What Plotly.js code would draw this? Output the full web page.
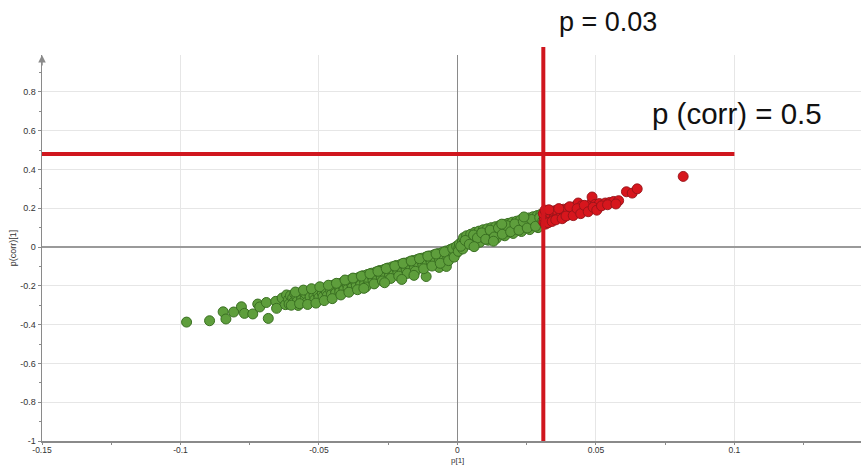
<!DOCTYPE html>
<html>
<head>
<meta charset="utf-8">
<script src="https://cdn.plot.ly/plotly-3.0.1.min.js"></script>
<style>html,body{margin:0;padding:0;background:#fff;}#chart{width:861px;height:466px;}</style>
</head>
<body>
<div id="chart"></div>
<script>
// Green variables (p[1] < 0.03)
const greenX = [
 -0.0978,-0.0895,-0.0846,-0.0836,-0.0808,-0.0780,-0.0769,-0.0739,-0.0721,-0.0714,-0.0690,-0.0683,-0.0656,-0.0653,-0.0633,-0.0621,-0.0617,
 -0.0610,-0.0608,-0.0603,-0.0595,-0.0592,-0.0588,-0.0580,-0.0578,-0.0575,-0.0565,-0.0563,-0.0560,-0.0550,-0.0548,-0.0545,-0.0535,-0.0525,-0.0532,
 -0.0520,-0.0518,-0.0515,-0.0505,-0.0503,-0.0500,-0.0490,-0.0488,-0.0485,-0.0475,-0.0473,-0.0470,-0.0460,-0.0458,-0.0455,-0.0445,-0.0443,-0.0440,
 -0.0430,-0.0428,-0.0425,-0.0415,-0.0413,-0.0410,-0.0400,-0.0398,-0.0395,-0.0385,-0.0383,-0.0380,-0.0370,-0.0368,-0.0365,-0.0355,-0.0353,-0.0350,
 -0.0340,-0.0338,-0.0335,-0.0325,-0.0323,-0.0320,-0.0310,-0.0308,-0.0305,-0.0295,-0.0293,-0.0290,-0.0280,-0.0278,-0.0275,-0.0265,-0.0263,-0.0260,
 -0.0250,-0.0248,-0.0245,-0.0235,-0.0233,-0.0230,-0.0220,-0.0218,-0.0215,-0.0205,-0.0203,-0.0200,-0.0190,-0.0188,-0.0185,-0.0175,-0.0173,-0.0170,
 -0.0160,-0.0158,-0.0155,-0.0145,-0.0143,-0.0140,-0.0130,-0.0128,-0.0125,-0.0115,-0.0113,-0.0110,-0.0100,-0.0098,-0.0095,-0.0085,-0.0083,-0.0080,
 -0.0070,-0.0068,-0.0065,-0.0055,-0.0053,-0.0050,-0.0040,-0.0038,-0.0035,-0.0025,-0.0023,-0.0020,-0.0010,-0.0008,-0.0005,-0.0113,-0.0066,-0.0040,
 -0.0600,-0.0585,-0.0570,-0.0556,-0.0541,-0.0527,-0.0511,-0.0497,-0.0481,-0.0466,-0.0452,-0.0437,-0.0421,-0.0406,-0.0392,-0.0377,-0.0361,-0.0347,
 -0.0331,-0.0316,-0.0301,-0.0287,-0.0271,-0.0257,-0.0241,-0.0226,-0.0212,-0.0196,-0.0181,-0.0167,-0.0152,-0.0137,-0.0122,-0.0107,-0.0092,-0.0077,
 -0.0062,-0.0047,-0.0032,-0.0017,-0.0003,-0.0012,-0.0157,-0.0201,-0.0263,-0.0338,
 0.0005,0.0007,0.0003,0.0020,0.0018,0.0022,0.0019,0.0035,0.0037,0.0033,0.0050,0.0052,0.0048,0.0051,0.0065,0.0067,0.0063,0.0080,0.0082,0.0078,0.0081,
 0.0095,0.0097,0.0093,0.0110,0.0112,0.0108,0.0111,0.0125,0.0127,0.0123,0.0140,0.0142,0.0138,0.0141,0.0155,0.0157,0.0153,0.0170,0.0172,0.0168,0.0171,
 0.0185,0.0187,0.0183,0.0200,0.0202,0.0198,0.0201,0.0215,0.0217,0.0213,0.0230,0.0232,0.0228,0.0231,0.0245,0.0247,0.0243,0.0260,0.0262,0.0258,0.0261,
 0.0275,0.0277,0.0273,0.0290,0.0292,0.0288,0.0291,0.0305,0.0303,0.0301,
 0.0012,0.0028,0.0043,0.0058,0.0072,0.0088,0.0102,0.0118,0.0133,0.0148,0.0162,0.0178,0.0192,0.0207,0.0222,0.0238,0.0252,0.0268,0.0282,0.0297,0.0308,
 0.0160,0.0240,0.0060,0.0130
];
const greenY = [
 -0.387,-0.380,-0.334,-0.371,-0.335,-0.308,-0.342,-0.345,-0.294,-0.309,-0.286,-0.368,-0.280,-0.316,-0.263,-0.297,-0.247,
 -0.270,-0.294,-0.251,-0.262,-0.286,-0.241,-0.256,-0.279,-0.301,-0.247,-0.271,-0.229,-0.263,-0.241,-0.286,-0.236,-0.280,-0.256,
 -0.228,-0.251,-0.271,-0.222,-0.244,-0.261,-0.215,-0.238,-0.256,-0.209,-0.231,-0.251,-0.200,-0.223,-0.244,-0.195,-0.216,-0.238,
 -0.189,-0.208,-0.231,-0.183,-0.201,-0.222,-0.176,-0.194,-0.214,-0.168,-0.189,-0.209,-0.162,-0.181,-0.199,-0.156,-0.173,-0.196,
 -0.148,-0.167,-0.188,-0.142,-0.161,-0.179,-0.135,-0.152,-0.172,-0.129,-0.147,-0.165,-0.121,-0.141,-0.160,-0.116,-0.133,-0.151,
 -0.108,-0.127,-0.145,-0.102,-0.119,-0.141,-0.095,-0.114,-0.131,-0.090,-0.106,-0.126,-0.083,-0.101,-0.117,-0.077,-0.093,-0.113,
 -0.070,-0.089,-0.104,-0.064,-0.080,-0.100,-0.058,-0.076,-0.091,-0.052,-0.068,-0.087,-0.046,-0.063,-0.079,-0.040,-0.055,-0.074,
 -0.034,-0.051,-0.065,-0.028,-0.042,-0.061,-0.020,-0.037,-0.051,-0.012,-0.027,-0.045,-0.004,-0.019,-0.033,-0.152,-0.105,-0.100,
 -0.300,-0.232,-0.292,-0.222,-0.296,-0.215,-0.289,-0.205,-0.276,-0.197,-0.266,-0.187,-0.247,-0.170,-0.233,-0.160,-0.220,-0.150,
 -0.206,-0.138,-0.190,-0.125,-0.175,-0.111,-0.162,-0.098,-0.150,-0.084,-0.136,-0.072,-0.125,-0.060,-0.112,-0.047,-0.098,-0.036,
 -0.084,-0.025,-0.070,-0.008,0.004,-0.052,-0.146,-0.167,-0.184,-0.213,
 -0.004,0.016,-0.022,0.010,0.030,0.048,-0.010,0.022,0.040,0.058,0.028,0.048,0.066,0.012,0.036,0.056,0.076,0.042,0.063,0.082,0.025,
 0.047,0.068,0.089,0.053,0.073,0.094,0.035,0.058,0.081,0.100,0.064,0.084,0.105,0.045,0.070,0.091,0.111,0.075,0.095,0.117,0.058,
 0.080,0.101,0.122,0.086,0.106,0.128,0.070,0.092,0.113,0.133,0.097,0.117,0.140,0.080,0.103,0.124,0.146,0.108,0.129,0.150,0.090,
 0.113,0.135,0.156,0.118,0.141,0.162,0.100,0.125,0.147,0.168,
 0.004,0.034,0.014,0.062,0.047,0.073,0.040,0.087,0.052,0.098,0.066,0.110,0.079,0.119,0.087,0.131,0.098,0.142,0.107,0.152,0.134,
 0.118,0.155,0.002,0.030
];
// Red variables (p[1] > 0.03)
const redX = [
 0.0312,0.0314,0.0310,0.0322,0.0324,0.0320,0.0335,0.0337,0.0333,0.0348,0.0350,0.0346,0.0360,0.0362,0.0358,0.0372,0.0374,
 0.0385,0.0387,0.0383,0.0400,0.0402,0.0398,0.0412,0.0414,0.0425,0.0427,0.0423,0.0438,0.0436,0.0450,0.0452,0.0448,
 0.0465,0.0467,0.0478,0.0480,0.0484,0.0486,0.0495,0.0497,0.0510,0.0512,0.0534,0.0550,0.0564,0.0582,0.0610,0.0631,0.0649,0.0815,
 0.0316,0.0318,0.0328,0.0330,0.0342,0.0355,0.0366,0.0378,0.0392,0.0405,0.0418,0.0432,0.0445,0.0458,0.0472,0.0490,0.0503,0.0520,0.0542,0.0572
];
const redY = [
 0.128,0.150,0.172,0.140,0.162,0.180,0.135,0.155,0.175,0.146,0.168,0.186,0.152,0.172,0.190,0.158,0.178,
 0.155,0.175,0.195,0.165,0.183,0.200,0.170,0.188,0.175,0.193,0.208,0.180,0.227,0.183,0.200,0.212,
 0.190,0.205,0.195,0.215,0.227,0.258,0.200,0.220,0.205,0.224,0.227,0.230,0.235,0.239,0.285,0.278,0.300,0.364,
 0.190,0.118,0.125,0.192,0.132,0.140,0.198,0.146,0.160,0.208,0.162,0.198,0.172,0.215,0.182,0.205,0.190,0.212,0.218,0.222
];
// Axis ticks
const xTickVals = [-0.15,-0.1,-0.05,0,0.05,0.1];
const xTickText = ["-0.15","-0.1","-0.05","0","0.05","0.1"];
const yTickVals = [-1,-0.8,-0.6,-0.4,-0.2,0,0.2,0.4,0.6,0.8];
const yTickText = ["-1","-0.8","-0.6","-0.4","-0.2","0","0.2","0.4","0.6","0.8"];
// Thresholds
const pThreshold = 0.031;
const pCorrThreshold = 0.48;

const traces = [
 {type:'scatter', mode:'markers', x:greenX, y:greenY, cliponaxis:false,
  marker:{size:10, color:'#5e9e3c', line:{color:'#3a7022', width:1}}, hoverinfo:'x+y'},
 {type:'scatter', mode:'markers', x:redX, y:redY, cliponaxis:false,
  marker:{size:10, color:'#d7161d', line:{color:'rgba(150,20,25,0.9)', width:1}}, hoverinfo:'x+y'}
];

const layout = {
 width:861, height:466,
 margin:{l:42, r:0, t:55, b:25},
 paper_bgcolor:'#ffffff', plot_bgcolor:'#ffffff',
 showlegend:false,
 font:{family:'"Liberation Sans", Arial, sans-serif', color:'#333'},
 xaxis:{range:[-0.15,0.1457], tickvals:xTickVals, ticktext:xTickText,
  showgrid:true, gridcolor:'#e6e6e6', gridwidth:1,
  zeroline:true, zerolinecolor:'#8a8a8a', zerolinewidth:1,
  showline:true, linecolor:'#8a8a8a', linewidth:1.5,
  ticks:'outside', ticklen:2, tickcolor:'#8a8a8a', ticklabelstandoff:-2,
  minor:{dtick:0.025, ticks:'outside', ticklen:2, tickcolor:'#8a8a8a', showgrid:false},
  tickfont:{size:8.5, color:'#333'}},
 yaxis:{range:[-1,0.99], tickvals:yTickVals, ticktext:yTickText,
  showgrid:true, gridcolor:'#e6e6e6', gridwidth:1,
  zeroline:true, zerolinecolor:'#9a9a9a', zerolinewidth:1.5,
  showline:true, linecolor:'#8a8a8a', linewidth:1.5,
  ticks:'outside', ticklen:3, tickcolor:'#8a8a8a',
  minor:{dtick:0.1, ticks:'outside', ticklen:2, tickcolor:'#8a8a8a', showgrid:false},
  tickfont:{size:9, color:'#333'},
  title:{text:'p(corr)[1]', font:{size:9, color:'#333'}, standoff:2}},
 shapes:[
  {type:'line', xref:'x', yref:'paper', x0:pThreshold, x1:pThreshold, y0:0, y1:1.021,
   line:{color:'#d0161e', width:4}, layer:'above'},
  {type:'line', xref:'x', yref:'y', x0:-0.15, x1:0.1, y0:pCorrThreshold, y1:pCorrThreshold,
   line:{color:'#d0161e', width:4}, layer:'above'}
 ],
 annotations:[
  {text:'p = 0.03', xref:'x', yref:'paper', x:0.0361, y:1.086, xanchor:'left', yanchor:'middle',
   showarrow:false, font:{size:27, color:'#111'}},
  {text:'p (corr) = 0.5', xref:'x', yref:'y', x:0.0695, y:0.69, xanchor:'left', yanchor:'middle',
   showarrow:false, font:{size:29.5, color:'#111'}},
  {text:'p[1]', xref:'x', yref:'paper', x:0, y:-0.0648, xanchor:'center', yanchor:'bottom',
   borderpad:0, showarrow:false, font:{size:8, color:'#333'}},
  {text:'', xref:'x', yref:'paper', x:-0.15, y:1.0, ax:0, ay:12, showarrow:true,
   arrowhead:2, arrowsize:1, arrowwidth:1.5, arrowcolor:'#8a8a8a'}
 ]
};

Plotly.newPlot('chart', traces, layout, {displayModeBar:false, staticPlot:true});
</script>
</body>
</html>
